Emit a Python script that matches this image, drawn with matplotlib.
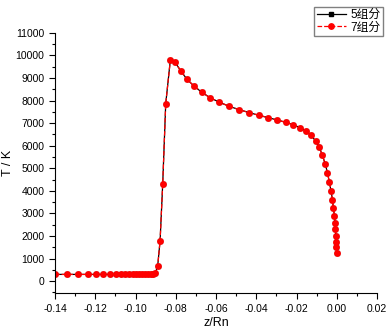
import matplotlib
matplotlib.use("Agg")
import matplotlib.pyplot as plt
from matplotlib.ticker import MultipleLocator

plt.rcParams['font.family'] = ['Liberation Sans', 'Noto Sans CJK SC', 'DejaVu Sans']

# z/Rn and temperature
z = [-0.1400, -0.1342, -0.1284, -0.1238, -0.1196, -0.1160, -0.1127, -0.1098,
     -0.1074, -0.1052, -0.1032, -0.1014, -0.0998, -0.0981, -0.0966, -0.0951,
     -0.0938, -0.0924, -0.0912, -0.0902, -0.0890, -0.0878, -0.0865, -0.0850,
     -0.0827, -0.0804, -0.0776, -0.0746, -0.0709, -0.0671, -0.0630, -0.0583,
     -0.0535, -0.0486, -0.0436, -0.0388, -0.0340, -0.0297, -0.0254, -0.0217,
     -0.0183, -0.0154, -0.0128, -0.0105, -0.0087, -0.0072, -0.0058, -0.0047,
     -0.0037, -0.0029, -0.0022, -0.0017, -0.0012, -0.0009, -0.0007, -0.0005,
     -0.0004, -0.0002, -0.0001]
T5 = [300, 300, 300, 300, 300, 300, 300, 300,
      300, 300, 300, 300, 300, 300, 300, 300,
      300, 305, 320, 350, 665, 1790, 4300, 7865,
      9800, 9700, 9330, 8960, 8640, 8370, 8130, 7925,
      7750, 7600, 7470, 7350, 7245, 7140, 7040, 6935,
      6800, 6655, 6460, 6210, 5930, 5575, 5205, 4805,
      4390, 3990, 3610, 3225, 2880, 2590, 2290, 2000,
      1745, 1520, 1270]
T7 = T5

fig = plt.figure(figsize=(3.9, 3.29), dpi=100)
ax = fig.add_axes([0.141, 0.109, 0.826, 0.791])

ax.plot(z, T5, color='black', lw=0.9, marker='s', ms=3.2, label='5组分')
ax.plot(z, T7, color='red', lw=0.9, ls='--', marker='o', ms=3.9, label='7组分')

ax.set_xlim(-0.14, 0.02)
ax.set_ylim(-530, 11000)
ax.xaxis.set_major_locator(MultipleLocator(0.02))
ax.xaxis.set_minor_locator(MultipleLocator(0.01))
ax.yaxis.set_major_locator(MultipleLocator(1000))
ax.yaxis.set_minor_locator(MultipleLocator(500))
ax.xaxis.set_major_formatter(plt.FuncFormatter(lambda v, p: f"{v:.2f}"))

ax.spines['top'].set_visible(False)
ax.spines['right'].set_visible(False)
ax.tick_params(which='major', direction='out', length=4, width=0.8, labelsize=7.5)
ax.tick_params(which='minor', direction='out', length=2, width=0.8)

ax.set_xlabel("z/Rn", fontsize=9)
ax.set_ylabel("T / K", fontsize=9)
ax.yaxis.set_label_coords(-0.128, 0.5)
ax.xaxis.set_label_coords(0.5, -0.09)

fig.legend(loc='upper right', bbox_to_anchor=(0.998, 0.998), fontsize=8.5,
           fancybox=False, edgecolor='gray', framealpha=1, borderpad=0.2,
           handlelength=2.5, handletextpad=0.4, labelspacing=0.05)

fig.savefig("out.png", dpi=100)
